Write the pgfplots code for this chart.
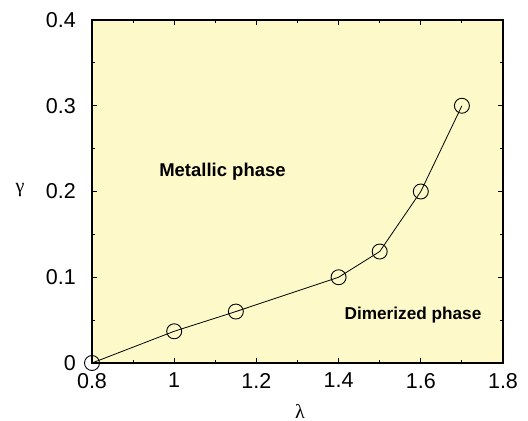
\documentclass[border=0pt]{standalone}
\usepackage{pgfplots}
\pgfplotsset{compat=1.18}
\usepackage{fontspec}
\setmainfont{Liberation Sans}
\newfontfamily\greekf{Liberation Serif}
\definecolor{bgyellow}{RGB}{253,249,200}
\newcommand\tickf{\fontsize{21.5bp}{24bp}\selectfont}
\begin{document}
\begin{tikzpicture}
\path[use as bounding box] (-92bp,-58bp) rectangle (436bp,363bp);
\begin{axis}[
  at={(0,0)}, anchor=south west,
  scale only axis, width=411bp, height=343bp,
  xmin=0.8, xmax=1.8, ymin=0, ymax=0.4,
  xtick={0.8,1,1.2,1.4,1.6,1.8},
  ytick={0,0.1,0.2,0.3,0.4},
  minor x tick num=1, minor y tick num=1,
  tick align=inside,
  major tick length=5bp, minor tick length=3bp,
  axis line style={line width=1.3bp},
  every tick/.style={line width=0.9bp, black},
  axis background/.style={fill=bgyellow},
  /pgf/number format/assume math mode=true,
  tick label style={font=\tickf},
  label style={font=\greekf\fontsize{20bp}{24bp}\selectfont},
  xticklabel style={anchor=north, inner sep=0pt, yshift=-10bp},
  yticklabel style={anchor=east, inner sep=0pt, xshift=-16bp},
  xticklabel={\pgfmathprintnumber[fixed,precision=1]{\tick}},
  yticklabel={\pgfmathprintnumber[fixed,precision=1]{\tick}},
  xlabel={λ},
  ylabel={γ},
  xlabel style={at={(axis description cs:0.506,0)}, anchor=center, yshift=-48bp},
  ylabel style={rotate=-90, anchor=center, at={(axis description cs:-0.175,0.504)}},
  clip=false,
]
\addplot[black, line width=0.8bp, mark=o, mark size=7.5bp, mark options={line width=0.9bp}]
coordinates {(0.8,0) (1.0,0.037) (1.15,0.06) (1.4,0.1) (1.5,0.13) (1.6,0.2) (1.7,0.3)};
\node[font=\bfseries\fontsize{18.5bp}{22bp}\selectfont] at (axis cs:1.1175,0.2236) {Metallic phase};
\node[font=\bfseries\fontsize{17.2bp}{20bp}\selectfont] at (axis cs:1.581,0.0564) {Dimerized phase};
\end{axis}
\end{tikzpicture}
\end{document}
